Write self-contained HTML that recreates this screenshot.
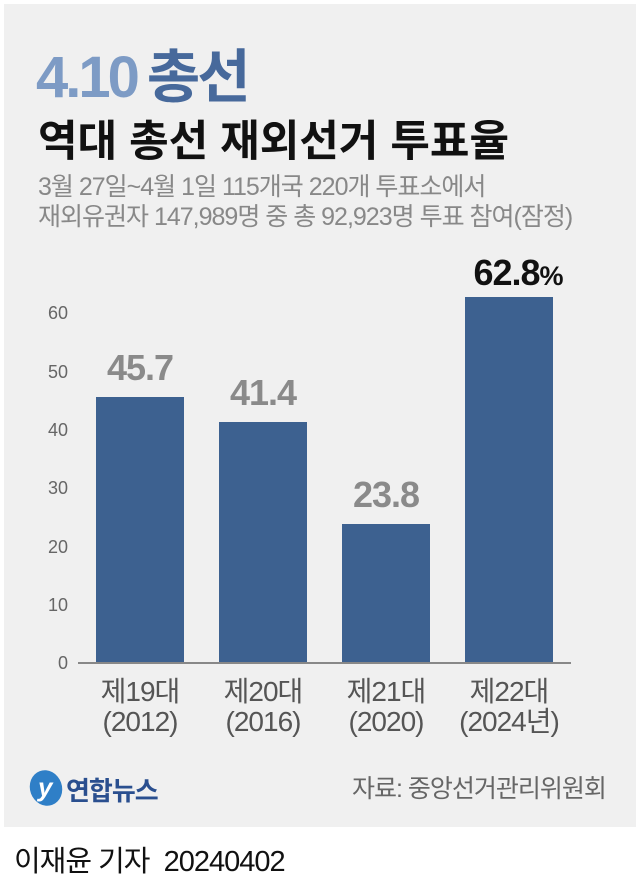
<!DOCTYPE html>
<html><head><meta charset="utf-8"><style>
body{margin:0;width:640px;height:887px;background:#fff;position:relative;overflow:hidden;font-family:"Liberation Sans","Noto Sans CJK KR",sans-serif}
.p{position:absolute;left:4px;top:4px;width:632px;height:823px;background:#f0f0f0}
.a{position:absolute;white-space:nowrap}
.tk{position:absolute;left:36px;width:32px;text-align:right;font-size:18px;color:#666;line-height:20px}
.bar{position:absolute;background:#3d6190;width:88px}
.v{position:absolute;width:160px;text-align:center;font-weight:bold;font-size:36px;color:#8a8a8a;letter-spacing:-1px}
.c{position:absolute;width:160px;text-align:center;font-size:28px;color:#555;line-height:30px;letter-spacing:-1px}
</style></head><body>
<div class="p"></div>
<div class="a" style="left:36px;top:30px;font-size:58px;font-weight:bold;letter-spacing:-3px"><span style="color:#7d9bc5">4.10</span><span style="color:#47699b;margin-left:10px">총선</span></div>
<div class="a" style="left:38px;top:107px;font-size:43px;font-weight:bold;color:#111;letter-spacing:0px">역대 총선 재외선거 투표율</div>
<div class="a" style="left:38px;top:172px;font-size:25px;color:#888;letter-spacing:-1px;line-height:30px">3월 27일~4월 1일 115개국 220개 투표소에서<br>재외유권자 147,989명 중 총 92,923명 투표 참여(잠정)</div>
<div class="tk" style="top:653px">0</div>
<div class="tk" style="top:595px">10</div>
<div class="tk" style="top:537px">20</div>
<div class="tk" style="top:478px">30</div>
<div class="tk" style="top:420px">40</div>
<div class="tk" style="top:362px">50</div>
<div class="tk" style="top:303px">60</div>
<div class="bar" style="left:96px;top:397px;height:266px"></div>
<div class="bar" style="left:219px;top:422px;height:241px"></div>
<div class="bar" style="left:342px;top:524px;height:139px"></div>
<div class="bar" style="left:465px;top:297px;height:366px"></div>
<div class="a" style="left:78px;top:662px;width:493px;height:2px;background:#888"></div>
<div class="v" style="left:60px;top:347px">45.7</div>
<div class="v" style="left:183px;top:372px">41.4</div>
<div class="v" style="left:306px;top:474px">23.8</div>
<div class="v" style="left:438px;top:252px;color:#111">62.8<span style="font-size:27px">%</span></div>
<div class="c" style="left:60px;top:677px">제19대<br>(2012)</div>
<div class="c" style="left:183px;top:677px">제20대<br>(2016)</div>
<div class="c" style="left:306px;top:677px">제21대<br>(2020)</div>
<div class="c" style="left:429px;top:677px">제22대<br>(2024년)</div>
<div class="a" style="left:30px;top:770px;width:32px;height:36px;border-radius:50%;background:#2f7fc7;transform:rotate(-20deg)"></div>
<div class="a" style="left:38px;top:772px;color:#fff;font-style:italic;font-weight:bold;font-size:26px">y</div>
<div class="a" style="left:66px;top:771px;font-size:26px;font-weight:bold;color:#2a4f8f;letter-spacing:-1px">연합뉴스</div>
<div class="a" style="left:352px;top:769px;font-size:25px;color:#666;letter-spacing:-1px">자료: 중앙선거관리위원회</div>
<div class="a" style="left:14px;top:838px;font-size:29px;color:#111;letter-spacing:-1px">이재윤 기자 &nbsp;20240402</div>
</body></html>
